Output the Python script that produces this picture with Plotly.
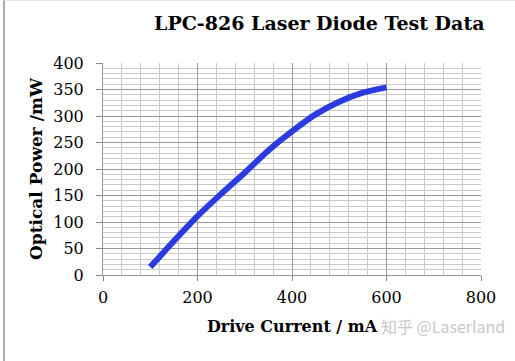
import plotly.graph_objects as go

current_mA = [100, 150, 200, 250, 300, 350, 400, 450, 500, 550, 600]
power_mW = [15, 64, 111, 153, 193, 235, 271, 303, 327, 344, 354]

x_ticks = [0, 200, 400, 600, 800]
y_ticks = [0, 50, 100, 150, 200, 250, 300, 350, 400]

FONT = "DejaVu Serif"

fig = go.Figure()
fig.add_trace(go.Scatter(
    x=current_mA, y=power_mW, mode="lines",
    line=dict(color="#2b3be0", width=6, shape="spline", smoothing=0.6),
    showlegend=False, hoverinfo="skip",
))

fig.update_layout(
    width=515, height=361,
    margin=dict(l=103, r=34, t=63, b=86),
    paper_bgcolor="white", plot_bgcolor="white",
    title=dict(text="<b>LPC-826 Laser Diode Test Data</b>", x=0.62, xanchor="center",
               y=0.935, yanchor="middle", font=dict(family=FONT, size=19, color="black")),
    xaxis=dict(
        range=[0, 800], tickvals=x_ticks, ticks="outside", ticklen=5, tickcolor="#888",
        ticklabelstandoff=3,
        showgrid=True, gridcolor="#999", gridwidth=1,
        minor=dict(dtick=40, showgrid=True, gridcolor="#cacaca", gridwidth=1),
        showline=True, linecolor="#999", mirror=False, zeroline=False,
        tickfont=dict(family=FONT, size=16, color="black"),
        title=dict(text="<b>Drive Current / mA</b>", font=dict(family=FONT, size=16, color="black"), standoff=14),
    ),
    yaxis=dict(
        range=[0, 400], tickvals=y_ticks, ticks="outside", ticklen=6, tickcolor="#888",
        ticklabelstandoff=9,
        showgrid=True, gridcolor="#999", gridwidth=1,
        minor=dict(dtick=10, showgrid=True, gridcolor="#cacaca", gridwidth=1),
        showline=True, linecolor="#999", zeroline=False,
        tickfont=dict(family=FONT, size=16, color="black"),
        title=dict(text="<b>Optical Power /mW</b>", font=dict(family=FONT, size=17, color="black"), standoff=6),
    ),
    annotations=[dict(
        text="知乎 @Laserland", xref="paper", yref="paper", x=1.07, y=-0.24,
        xanchor="right", yanchor="middle", showarrow=False,
        font=dict(family="Noto Sans CJK SC", size=16, color="#c8c8c8"),
    )],
    shapes=[
        dict(type="line", xref="paper", yref="paper", x0=-0.262, x1=-0.262, y0=-0.41, y1=1.3,
             line=dict(color="#aaa", width=2)),
        dict(type="line", xref="paper", yref="paper", x0=-0.262, x1=1.1, y0=1.295, y1=1.295,
             line=dict(color="#e4e4e4", width=1)),
    ],
)

fig.write_html("out.html")
